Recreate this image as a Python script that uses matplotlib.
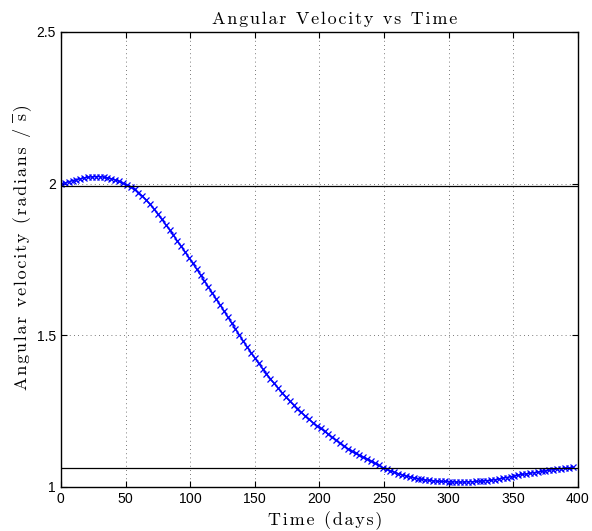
import numpy as np
import matplotlib
matplotlib.use("Agg")
import matplotlib.pyplot as plt

# Angular velocity, one sample every 3 days
days = np.arange(0, 397, 3)
omega = [
    1.998, 2.002, 2.006, 2.010, 2.013, 2.016, 2.019, 2.021, 2.022, 2.023,
    2.023, 2.021, 2.019, 2.016, 2.012, 2.007, 2.001, 1.995, 1.989, 1.981,
    1.970, 1.959, 1.946, 1.931, 1.916, 1.899, 1.882, 1.865, 1.848, 1.830,
    1.811, 1.793, 1.775, 1.756, 1.737, 1.718, 1.699, 1.679, 1.660, 1.640,
    1.620, 1.601, 1.581, 1.561, 1.541, 1.521, 1.501, 1.481, 1.462, 1.443,
    1.425, 1.407, 1.390, 1.373, 1.357, 1.341, 1.326, 1.311, 1.297, 1.283,
    1.270, 1.258, 1.246, 1.234, 1.223, 1.212, 1.202, 1.193, 1.183, 1.173,
    1.163, 1.154, 1.144, 1.135, 1.126, 1.118, 1.111, 1.104, 1.098, 1.092,
    1.085, 1.078, 1.071, 1.064, 1.058, 1.053, 1.048, 1.044, 1.040, 1.036,
    1.033, 1.030, 1.027, 1.025, 1.023, 1.022, 1.020, 1.019, 1.018, 1.018,
    1.017, 1.017, 1.016, 1.016, 1.016, 1.017, 1.017, 1.018, 1.019, 1.020,
    1.021, 1.022, 1.024, 1.026, 1.029, 1.031, 1.034, 1.036, 1.039, 1.041,
    1.043, 1.045, 1.047, 1.049, 1.051, 1.053, 1.055, 1.057, 1.059, 1.060,
    1.062, 1.063, 1.065,
]
upper_level = 1.993
lower_level = 1.061

x_ticks = [0, 50, 100, 150, 200, 250, 300, 350, 400]
y_ticks = [1, 1.5, 2, 2.5]
y_tick_labels = ["1", "1.5", "2", "2.5"]

plt.rcParams['axes.formatter.use_mathtext'] = True

serif = ['cmr10', 'DejaVu Serif']


def spaced(s):
    # MATLAB's latex text is loosely tracked; fake it with hair spaces
    return "\u200a".join(s)


fig = plt.figure(figsize=(5.92, 5.31), dpi=100)
ax = fig.add_axes([0.103, 0.083, 0.873, 0.857])

ax.plot(days, omega, color='blue', linewidth=1.0, marker='x',
        markersize=5, markeredgewidth=0.9)
ax.axhline(upper_level, color='black', linewidth=0.9)
ax.axhline(lower_level, color='black', linewidth=0.9)

ax.set_xlim(0, 400)
ax.set_ylim(1, 2.5)
ax.set_xticks(x_ticks)
ax.set_yticks(y_ticks)
ax.set_yticklabels(y_tick_labels)
ax.grid(True, linestyle=(0, (1, 4)), color='black', linewidth=0.6, alpha=0.7)
ax.tick_params(direction='in', top=True, right=True, length=4,
               labelsize=10, width=0.8)
for lbl in ax.get_xticklabels() + ax.get_yticklabels():
    lbl.set_family('Liberation Sans')
for sp in ax.spines.values():
    sp.set_linewidth(1.0)

ax.set_title(spaced("Angular Velocity vs Time"), family=serif, fontsize=13,
             pad=6, x=0.53)
ax.set_xlabel(spaced("Time (days)"), family=serif, fontsize=13)
ax.xaxis.set_label_coords(0.512, -0.053)
ax.set_ylabel(spaced("Angular velocity (radians / ") + "s\u0305" + "\u200a)",
              family=serif, fontsize=13)
ax.yaxis.set_label_coords(-0.058, 0.526)

fig.savefig("out.png", dpi=100)
